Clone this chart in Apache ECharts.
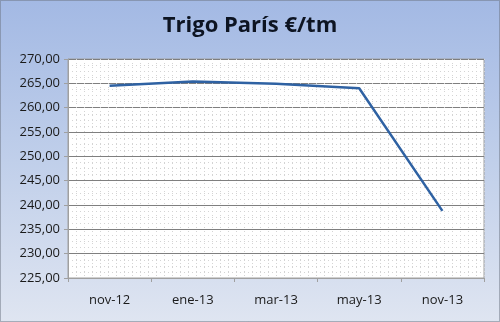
<!DOCTYPE html>
<html><head><meta charset="utf-8">
<script src="https://cdn.jsdelivr.net/npm/echarts@6/dist/echarts.min.js"></script>
<style>html,body{margin:0;padding:0;}#c{width:500px;height:322px;}</style>
</head><body><div id="c"></div>
<script>
var titleText = 'Trigo París €/tm';
var categories = ['nov-12', 'ene-13', 'mar-13', 'may-13', 'nov-13'];
var prices = [264.5, 265.4, 264.9, 264.0, 238.8];
var yMin = 225, yMax = 270, yStep = 5;

var chart = echarts.init(document.getElementById('c'));
chart.setOption({
  animation: false,
  backgroundColor: {
    type: 'linear', x: 0, y: 0, x2: 0, y2: 1,
    colorStops: [{offset: 0, color: '#a3b9e4'}, {offset: 0.5, color: '#c0cfea'}, {offset: 1, color: '#dfe5f1'}]
  },
  title: {
    text: titleText, left: 'center', top: 10,
    textStyle: {fontFamily: 'Open Sans', fontWeight: 'bold', fontSize: 22, color: '#0d1422'}
  },
  graphic: [{
    type: 'rect', shape: {x: 0.5, y: 0.5, width: 499, height: 321},
    style: {fill: 'none', stroke: '#6b7280', lineWidth: 1, lineDash: [1, 1]}, silent: true, z: 100
  }],
  grid: {left: 68, right: 16, top: 59, bottom: 44, show: true, backgroundColor: '#ffffff', borderColor: '#a0a0a0', borderWidth: 1},
  xAxis: [{
    type: 'category', data: categories, boundaryGap: true,
    axisLine: {lineStyle: {color: '#a0a0a0'}},
    axisTick: {show: true, length: 4, lineStyle: {color: '#a0a0a0'}},
    axisLabel: {fontFamily: 'Open Sans', fontSize: 13, color: '#1a1a1a', margin: 16},
    splitLine: {show: false}
  }, {
    type: 'value', min: 0, max: 52, interval: 1, show: true, position: 'top',
    axisLine: {show: false}, axisTick: {show: false}, axisLabel: {show: false},
    splitLine: {show: true, lineStyle: {color: '#d4d4d4', type: [1, 3], width: 1}}
  }],
  yAxis: {
    type: 'value', min: yMin, max: yMax, interval: yStep,
    axisLine: {show: true, lineStyle: {color: '#a0a0a0'}},
    axisTick: {show: true, length: 4, lineStyle: {color: '#a0a0a0'}},
    axisLabel: {
      fontFamily: 'Open Sans', fontSize: 13, color: '#1a1a1a', margin: 8,
      formatter: function (v) { return v.toFixed(2).replace('.', ','); }
    },
    splitLine: {show: true, lineStyle: {color: '#7f7f7f', width: 1}},
    minorTick: {show: false, splitNumber: 4},
    minorSplitLine: {show: true, lineStyle: {color: '#d4d4d4', type: [1, 3], width: 1}}
  },
  series: [{
    type: 'line', data: prices, xAxisIndex: 0, symbol: 'none',
    lineStyle: {color: '#2f62a3', width: 2.5}, z: 10
  }]
});
</script></body></html>
